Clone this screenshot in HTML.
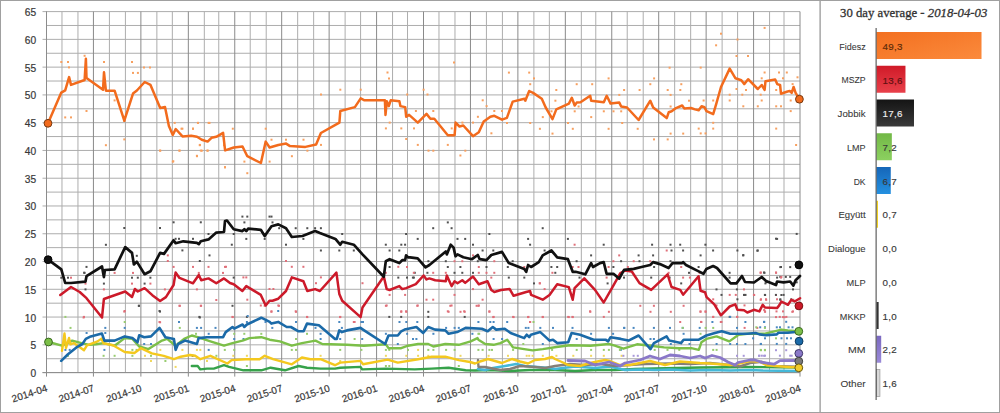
<!DOCTYPE html><html><head><meta charset="utf-8"><style>
html,body{margin:0;padding:0;background:#fff;width:1000px;height:413px;overflow:hidden}
svg{display:block}
text{font-family:"Liberation Sans",sans-serif}
</style></head><body>
<svg width="1000" height="413" viewBox="0 0 1000 413">
<rect x="0" y="0" width="1000" height="413" fill="#fff"/>
<path d="M42.5 372.60H800.0M46.5 358.72H800.0M42.5 344.83H800.0M46.5 330.95H800.0M42.5 317.06H800.0M46.5 303.18H800.0M42.5 289.29H800.0M46.5 275.41H800.0M42.5 261.52H800.0M46.5 247.64H800.0M42.5 233.75H800.0M46.5 219.87H800.0M42.5 205.98H800.0M46.5 192.10H800.0M42.5 178.22H800.0M46.5 164.33H800.0M42.5 150.45H800.0M46.5 136.56H800.0M42.5 122.68H800.0M46.5 108.79H800.0M42.5 94.91H800.0M46.5 81.02H800.0M42.5 67.14H800.0M46.5 53.25H800.0M42.5 39.37H800.0M46.5 25.48H800.0M42.5 11.60H800.0M61.97 11.6V372.6M77.96 11.6V372.6M109.42 11.6V372.6M125.41 11.6V372.6M156.87 11.6V372.6M172.34 11.6V372.6M204.32 11.6V372.6M218.76 11.6V372.6M250.22 11.6V372.6M266.21 11.6V372.6M297.67 11.6V372.6M313.65 11.6V372.6M345.11 11.6V372.6M360.59 11.6V372.6M392.56 11.6V372.6M407.52 11.6V372.6M438.98 11.6V372.6M454.97 11.6V372.6M486.43 11.6V372.6M502.42 11.6V372.6M533.88 11.6V372.6M549.35 11.6V372.6M581.33 11.6V372.6M595.77 11.6V372.6M627.23 11.6V372.6M643.21 11.6V372.6M674.67 11.6V372.6M690.66 11.6V372.6M722.12 11.6V372.6M737.60 11.6V372.6M769.57 11.6V372.6M784.01 11.6V372.6" stroke="#adadad" stroke-width="1" fill="none"/>
<path d="M46.50 11.6V376.6M93.43 11.6V376.6M140.88 11.6V376.6M188.33 11.6V376.6M234.75 11.6V376.6M281.68 11.6V376.6M329.13 11.6V376.6M376.58 11.6V376.6M423.51 11.6V376.6M470.44 11.6V376.6M517.89 11.6V376.6M565.34 11.6V376.6M611.75 11.6V376.6M658.69 11.6V376.6M706.13 11.6V376.6M753.58 11.6V376.6M800.00 11.6V376.6" stroke="#8a8a8a" stroke-width="1" fill="none"/>
<path d="M46.5 11.6V372.6M42.5 372.60H800.0" stroke="#8c8c8c" stroke-width="1" fill="none"/>
<text x="36.2" y="377.0" font-size="10.2" fill="#383838" stroke="#383838" stroke-width="0.2" text-anchor="end">0</text>
<text x="36.2" y="349.2" font-size="10.2" fill="#383838" stroke="#383838" stroke-width="0.2" text-anchor="end">5</text>
<text x="36.2" y="321.5" font-size="10.2" fill="#383838" stroke="#383838" stroke-width="0.2" text-anchor="end">10</text>
<text x="36.2" y="293.7" font-size="10.2" fill="#383838" stroke="#383838" stroke-width="0.2" text-anchor="end">15</text>
<text x="36.2" y="265.9" font-size="10.2" fill="#383838" stroke="#383838" stroke-width="0.2" text-anchor="end">20</text>
<text x="36.2" y="238.2" font-size="10.2" fill="#383838" stroke="#383838" stroke-width="0.2" text-anchor="end">25</text>
<text x="36.2" y="210.4" font-size="10.2" fill="#383838" stroke="#383838" stroke-width="0.2" text-anchor="end">30</text>
<text x="36.2" y="182.6" font-size="10.2" fill="#383838" stroke="#383838" stroke-width="0.2" text-anchor="end">35</text>
<text x="36.2" y="154.8" font-size="10.2" fill="#383838" stroke="#383838" stroke-width="0.2" text-anchor="end">40</text>
<text x="36.2" y="127.1" font-size="10.2" fill="#383838" stroke="#383838" stroke-width="0.2" text-anchor="end">45</text>
<text x="36.2" y="99.3" font-size="10.2" fill="#383838" stroke="#383838" stroke-width="0.2" text-anchor="end">50</text>
<text x="36.2" y="71.5" font-size="10.2" fill="#383838" stroke="#383838" stroke-width="0.2" text-anchor="end">55</text>
<text x="36.2" y="43.8" font-size="10.2" fill="#383838" stroke="#383838" stroke-width="0.2" text-anchor="end">60</text>
<text x="36.2" y="16.0" font-size="10.2" fill="#383838" stroke="#383838" stroke-width="0.2" text-anchor="end">65</text>
<text transform="translate(48.0 391.1) rotate(-18)" font-size="10" fill="#383838" stroke="#383838" stroke-width="0.2" text-anchor="end">2014-04</text>
<text transform="translate(94.9 391.1) rotate(-18)" font-size="10" fill="#383838" stroke="#383838" stroke-width="0.2" text-anchor="end">2014-07</text>
<text transform="translate(142.4 391.1) rotate(-18)" font-size="10" fill="#383838" stroke="#383838" stroke-width="0.2" text-anchor="end">2014-10</text>
<text transform="translate(189.8 391.1) rotate(-18)" font-size="10" fill="#383838" stroke="#383838" stroke-width="0.2" text-anchor="end">2015-01</text>
<text transform="translate(236.2 391.1) rotate(-18)" font-size="10" fill="#383838" stroke="#383838" stroke-width="0.2" text-anchor="end">2015-04</text>
<text transform="translate(283.2 391.1) rotate(-18)" font-size="10" fill="#383838" stroke="#383838" stroke-width="0.2" text-anchor="end">2015-07</text>
<text transform="translate(330.6 391.1) rotate(-18)" font-size="10" fill="#383838" stroke="#383838" stroke-width="0.2" text-anchor="end">2015-10</text>
<text transform="translate(378.1 391.1) rotate(-18)" font-size="10" fill="#383838" stroke="#383838" stroke-width="0.2" text-anchor="end">2016-01</text>
<text transform="translate(425.0 391.1) rotate(-18)" font-size="10" fill="#383838" stroke="#383838" stroke-width="0.2" text-anchor="end">2016-04</text>
<text transform="translate(471.9 391.1) rotate(-18)" font-size="10" fill="#383838" stroke="#383838" stroke-width="0.2" text-anchor="end">2016-07</text>
<text transform="translate(519.4 391.1) rotate(-18)" font-size="10" fill="#383838" stroke="#383838" stroke-width="0.2" text-anchor="end">2016-10</text>
<text transform="translate(566.8 391.1) rotate(-18)" font-size="10" fill="#383838" stroke="#383838" stroke-width="0.2" text-anchor="end">2017-01</text>
<text transform="translate(613.3 391.1) rotate(-18)" font-size="10" fill="#383838" stroke="#383838" stroke-width="0.2" text-anchor="end">2017-04</text>
<text transform="translate(660.2 391.1) rotate(-18)" font-size="10" fill="#383838" stroke="#383838" stroke-width="0.2" text-anchor="end">2017-07</text>
<text transform="translate(707.6 391.1) rotate(-18)" font-size="10" fill="#383838" stroke="#383838" stroke-width="0.2" text-anchor="end">2017-10</text>
<text transform="translate(755.1 391.1) rotate(-18)" font-size="10" fill="#383838" stroke="#383838" stroke-width="0.2" text-anchor="end">2018-01</text>
<text transform="translate(801.5 391.1) rotate(-18)" font-size="10" fill="#383838" stroke="#383838" stroke-width="0.2" text-anchor="end">2018-04</text>
<defs><clipPath id="pc"><rect x="46" y="0" width="760" height="374"/></clipPath></defs>
<g clip-path="url(#pc)">
<rect x="143.0" y="66.5" width="2" height="2" fill="#f7a060"/><rect x="149.0" y="66.5" width="2" height="2" fill="#f7a060"/><rect x="386.5" y="71.5" width="2" height="2" fill="#f7a060"/><rect x="388.0" y="77.5" width="2" height="2" fill="#f7a060"/><rect x="453.0" y="61.5" width="2" height="2" fill="#f7a060"/><rect x="60.3" y="61.0" width="2" height="2" fill="#f7a060"/><rect x="67.0" y="61.0" width="2" height="2" fill="#f7a060"/><rect x="68.0" y="66.4" width="2" height="2" fill="#f7a060"/><rect x="64.2" y="116.4" width="2" height="2" fill="#f7a060"/><rect x="70.0" y="116.4" width="2" height="2" fill="#f7a060"/><rect x="83.6" y="54.8" width="2" height="2" fill="#f7a060"/><rect x="85.5" y="110.0" width="2" height="2" fill="#f7a060"/><rect x="103.0" y="61.0" width="2" height="2" fill="#f7a060"/><rect x="113.6" y="99.4" width="2" height="2" fill="#f7a060"/><rect x="131.0" y="61.0" width="2" height="2" fill="#f7a060"/><rect x="132.0" y="71.9" width="2" height="2" fill="#f7a060"/><rect x="136.9" y="71.9" width="2" height="2" fill="#f7a060"/><rect x="173.7" y="121.9" width="2" height="2" fill="#f7a060"/><rect x="180.5" y="127.7" width="2" height="2" fill="#f7a060"/><rect x="197.0" y="121.9" width="2" height="2" fill="#f7a060"/><rect x="207.6" y="121.9" width="2" height="2" fill="#f7a060"/><rect x="192.0" y="127.7" width="2" height="2" fill="#f7a060"/><rect x="231.8" y="127.7" width="2" height="2" fill="#f7a060"/><rect x="264.7" y="127.7" width="2" height="2" fill="#f7a060"/><rect x="159.2" y="149.7" width="2" height="2" fill="#f7a060"/><rect x="178.5" y="149.7" width="2" height="2" fill="#f7a060"/><rect x="198.9" y="143.9" width="2" height="2" fill="#f7a060"/><rect x="200.8" y="149.7" width="2" height="2" fill="#f7a060"/><rect x="206.6" y="149.7" width="2" height="2" fill="#f7a060"/><rect x="196.0" y="155.2" width="2" height="2" fill="#f7a060"/><rect x="171.8" y="160.6" width="2" height="2" fill="#f7a060"/><rect x="224.0" y="166.4" width="2" height="2" fill="#f7a060"/><rect x="243.4" y="160.6" width="2" height="2" fill="#f7a060"/><rect x="246.3" y="172.2" width="2" height="2" fill="#f7a060"/><rect x="268.6" y="160.6" width="2" height="2" fill="#f7a060"/><rect x="270.5" y="138.7" width="2" height="2" fill="#f7a060"/><rect x="285.0" y="138.7" width="2" height="2" fill="#f7a060"/><rect x="302.5" y="138.7" width="2" height="2" fill="#f7a060"/><rect x="290.9" y="155.2" width="2" height="2" fill="#f7a060"/><rect x="306.4" y="149.7" width="2" height="2" fill="#f7a060"/><rect x="320.0" y="143.9" width="2" height="2" fill="#f7a060"/><rect x="339.3" y="88.7" width="2" height="2" fill="#f7a060"/><rect x="359.7" y="88.7" width="2" height="2" fill="#f7a060"/><rect x="320.0" y="93.5" width="2" height="2" fill="#f7a060"/><rect x="422.6" y="88.7" width="2" height="2" fill="#f7a060"/><rect x="406.2" y="93.5" width="2" height="2" fill="#f7a060"/><rect x="426.5" y="93.5" width="2" height="2" fill="#f7a060"/><rect x="414.9" y="110.0" width="2" height="2" fill="#f7a060"/><rect x="432.3" y="110.0" width="2" height="2" fill="#f7a060"/><rect x="388.7" y="121.6" width="2" height="2" fill="#f7a060"/><rect x="384.9" y="127.4" width="2" height="2" fill="#f7a060"/><rect x="400.3" y="127.4" width="2" height="2" fill="#f7a060"/><rect x="413.0" y="127.4" width="2" height="2" fill="#f7a060"/><rect x="405.2" y="138.0" width="2" height="2" fill="#f7a060"/><rect x="416.8" y="143.9" width="2" height="2" fill="#f7a060"/><rect x="427.5" y="149.7" width="2" height="2" fill="#f7a060"/><rect x="432.3" y="149.7" width="2" height="2" fill="#f7a060"/><rect x="446.8" y="143.9" width="2" height="2" fill="#f7a060"/><rect x="459.4" y="154.5" width="2" height="2" fill="#f7a060"/><rect x="464.3" y="149.7" width="2" height="2" fill="#f7a060"/><rect x="450.7" y="127.4" width="2" height="2" fill="#f7a060"/><rect x="461.4" y="121.6" width="2" height="2" fill="#f7a060"/><rect x="472.0" y="121.6" width="2" height="2" fill="#f7a060"/><rect x="476.9" y="115.8" width="2" height="2" fill="#f7a060"/><rect x="481.7" y="99.3" width="2" height="2" fill="#f7a060"/><rect x="485.6" y="105.1" width="2" height="2" fill="#f7a060"/><rect x="493.3" y="110.0" width="2" height="2" fill="#f7a060"/><rect x="501.0" y="110.0" width="2" height="2" fill="#f7a060"/><rect x="490.4" y="132.3" width="2" height="2" fill="#f7a060"/><rect x="507.9" y="71.6" width="2" height="2" fill="#f7a060"/><rect x="528.2" y="71.6" width="2" height="2" fill="#f7a060"/><rect x="533.0" y="77.4" width="2" height="2" fill="#f7a060"/><rect x="529.2" y="83.2" width="2" height="2" fill="#f7a060"/><rect x="555.3" y="89.0" width="2" height="2" fill="#f7a060"/><rect x="575.7" y="83.2" width="2" height="2" fill="#f7a060"/><rect x="591.2" y="83.2" width="2" height="2" fill="#f7a060"/><rect x="607.6" y="77.4" width="2" height="2" fill="#f7a060"/><rect x="623.1" y="89.0" width="2" height="2" fill="#f7a060"/><rect x="618.3" y="93.9" width="2" height="2" fill="#f7a060"/><rect x="638.6" y="89.0" width="2" height="2" fill="#f7a060"/><rect x="649.3" y="83.2" width="2" height="2" fill="#f7a060"/><rect x="653.1" y="77.4" width="2" height="2" fill="#f7a060"/><rect x="668.6" y="66.7" width="2" height="2" fill="#f7a060"/><rect x="666.7" y="89.0" width="2" height="2" fill="#f7a060"/><rect x="679.3" y="89.0" width="2" height="2" fill="#f7a060"/><rect x="680.3" y="83.2" width="2" height="2" fill="#f7a060"/><rect x="669.6" y="93.9" width="2" height="2" fill="#f7a060"/><rect x="688.0" y="99.7" width="2" height="2" fill="#f7a060"/><rect x="669.6" y="105.5" width="2" height="2" fill="#f7a060"/><rect x="554.4" y="99.7" width="2" height="2" fill="#f7a060"/><rect x="550.5" y="110.3" width="2" height="2" fill="#f7a060"/><rect x="573.7" y="110.3" width="2" height="2" fill="#f7a060"/><rect x="577.6" y="105.5" width="2" height="2" fill="#f7a060"/><rect x="590.2" y="116.1" width="2" height="2" fill="#f7a060"/><rect x="602.8" y="110.3" width="2" height="2" fill="#f7a060"/><rect x="612.5" y="110.3" width="2" height="2" fill="#f7a060"/><rect x="620.2" y="110.3" width="2" height="2" fill="#f7a060"/><rect x="541.8" y="116.1" width="2" height="2" fill="#f7a060"/><rect x="529.2" y="122.0" width="2" height="2" fill="#f7a060"/><rect x="506.0" y="122.0" width="2" height="2" fill="#f7a060"/><rect x="567.0" y="122.0" width="2" height="2" fill="#f7a060"/><rect x="621.2" y="122.0" width="2" height="2" fill="#f7a060"/><rect x="538.9" y="127.8" width="2" height="2" fill="#f7a060"/><rect x="571.8" y="127.8" width="2" height="2" fill="#f7a060"/><rect x="607.6" y="127.8" width="2" height="2" fill="#f7a060"/><rect x="636.7" y="127.8" width="2" height="2" fill="#f7a060"/><rect x="551.5" y="132.6" width="2" height="2" fill="#f7a060"/><rect x="669.6" y="132.6" width="2" height="2" fill="#f7a060"/><rect x="682.2" y="132.6" width="2" height="2" fill="#f7a060"/><rect x="653.0" y="138.4" width="2" height="2" fill="#f7a060"/><rect x="666.7" y="138.4" width="2" height="2" fill="#f7a060"/><rect x="763.6" y="26.9" width="2" height="2" fill="#f7a060"/><rect x="720.0" y="32.7" width="2" height="2" fill="#f7a060"/><rect x="715.1" y="44.3" width="2" height="2" fill="#f7a060"/><rect x="736.5" y="38.5" width="2" height="2" fill="#f7a060"/><rect x="735.5" y="55.0" width="2" height="2" fill="#f7a060"/><rect x="747.0" y="55.0" width="2" height="2" fill="#f7a060"/><rect x="699.7" y="66.6" width="2" height="2" fill="#f7a060"/><rect x="763.6" y="71.5" width="2" height="2" fill="#f7a060"/><rect x="778.0" y="71.5" width="2" height="2" fill="#f7a060"/><rect x="785.8" y="71.5" width="2" height="2" fill="#f7a060"/><rect x="796.5" y="76.3" width="2" height="2" fill="#f7a060"/><rect x="782.0" y="77.3" width="2" height="2" fill="#f7a060"/><rect x="760.7" y="77.3" width="2" height="2" fill="#f7a060"/><rect x="735.5" y="88.0" width="2" height="2" fill="#f7a060"/><rect x="745.0" y="89.0" width="2" height="2" fill="#f7a060"/><rect x="775.2" y="89.0" width="2" height="2" fill="#f7a060"/><rect x="791.6" y="83.1" width="2" height="2" fill="#f7a060"/><rect x="728.7" y="93.7" width="2" height="2" fill="#f7a060"/><rect x="741.3" y="93.7" width="2" height="2" fill="#f7a060"/><rect x="759.7" y="93.7" width="2" height="2" fill="#f7a060"/><rect x="712.2" y="99.5" width="2" height="2" fill="#f7a060"/><rect x="702.6" y="99.5" width="2" height="2" fill="#f7a060"/><rect x="728.7" y="99.5" width="2" height="2" fill="#f7a060"/><rect x="760.7" y="99.5" width="2" height="2" fill="#f7a060"/><rect x="789.7" y="99.5" width="2" height="2" fill="#f7a060"/><rect x="742.3" y="105.3" width="2" height="2" fill="#f7a060"/><rect x="756.8" y="105.3" width="2" height="2" fill="#f7a060"/><rect x="775.2" y="105.3" width="2" height="2" fill="#f7a060"/><rect x="780.0" y="105.3" width="2" height="2" fill="#f7a060"/><rect x="789.7" y="110.1" width="2" height="2" fill="#f7a060"/><rect x="712.2" y="121.8" width="2" height="2" fill="#f7a060"/><rect x="697.7" y="127.6" width="2" height="2" fill="#f7a060"/><rect x="712.2" y="127.6" width="2" height="2" fill="#f7a060"/><rect x="699.7" y="132.4" width="2" height="2" fill="#f7a060"/><rect x="704.5" y="132.4" width="2" height="2" fill="#f7a060"/><rect x="775.2" y="127.6" width="2" height="2" fill="#f7a060"/><rect x="795.1" y="144.0" width="2" height="2" fill="#f7a060"/><rect x="104.9" y="144.2" width="2" height="2" fill="#f7a060"/><rect x="123.3" y="138.4" width="2" height="2" fill="#f7a060"/><rect x="123.3" y="120.0" width="2" height="2" fill="#f7a060"/><rect x="159.1" y="149.6" width="2" height="2" fill="#f7a060"/><rect x="178.5" y="149.6" width="2" height="2" fill="#f7a060"/><rect x="199.8" y="149.6" width="2" height="2" fill="#f7a060"/><rect x="206.5" y="149.6" width="2" height="2" fill="#f7a060"/><rect x="198.8" y="144.2" width="2" height="2" fill="#f7a060"/><rect x="195.9" y="154.8" width="2" height="2" fill="#f7a060"/><rect x="172.3" y="160.3" width="2" height="2" fill="#f7a060"/><rect x="224.0" y="166.1" width="2" height="2" fill="#f7a060"/><rect x="181.4" y="127.7" width="2" height="2" fill="#f7a060"/><rect x="192.0" y="127.7" width="2" height="2" fill="#f7a060"/><rect x="196.9" y="121.9" width="2" height="2" fill="#f7a060"/><rect x="208.5" y="121.9" width="2" height="2" fill="#f7a060"/><rect x="223.0" y="144.2" width="2" height="2" fill="#f7a060"/>
<rect x="83.5" y="271.9" width="2" height="2" fill="#505050"/><rect x="60.3" y="276.7" width="2" height="2" fill="#505050"/><rect x="67.0" y="276.7" width="2" height="2" fill="#505050"/><rect x="131.0" y="276.7" width="2" height="2" fill="#505050"/><rect x="136.8" y="276.7" width="2" height="2" fill="#505050"/><rect x="149.4" y="276.7" width="2" height="2" fill="#505050"/><rect x="102.9" y="282.6" width="2" height="2" fill="#505050"/><rect x="143.6" y="282.6" width="2" height="2" fill="#505050"/><rect x="84.5" y="288.4" width="2" height="2" fill="#505050"/><rect x="134.0" y="288.4" width="2" height="2" fill="#505050"/><rect x="137.8" y="304.8" width="2" height="2" fill="#505050"/><rect x="159.0" y="310.6" width="2" height="2" fill="#505050"/><rect x="198.8" y="316.5" width="2" height="2" fill="#505050"/><rect x="123.3" y="227.0" width="2" height="2" fill="#505050"/><rect x="159.0" y="227.0" width="2" height="2" fill="#505050"/><rect x="172.6" y="221.3" width="2" height="2" fill="#505050"/><rect x="199.8" y="221.3" width="2" height="2" fill="#505050"/><rect x="104.9" y="243.8" width="2" height="2" fill="#505050"/><rect x="135.8" y="254.8" width="2" height="2" fill="#505050"/><rect x="181.4" y="249.4" width="2" height="2" fill="#505050"/><rect x="208.5" y="254.4" width="2" height="2" fill="#505050"/><rect x="198.8" y="260.0" width="2" height="2" fill="#505050"/><rect x="85.5" y="265.9" width="2" height="2" fill="#505050"/><rect x="83.2" y="271.7" width="2" height="2" fill="#505050"/><rect x="178.0" y="237.8" width="2" height="2" fill="#505050"/><rect x="174.6" y="237.8" width="2" height="2" fill="#505050"/><rect x="192.0" y="237.8" width="2" height="2" fill="#505050"/><rect x="207.5" y="233.0" width="2" height="2" fill="#505050"/><rect x="241.4" y="215.6" width="2" height="2" fill="#505050"/><rect x="246.3" y="215.6" width="2" height="2" fill="#505050"/><rect x="268.5" y="215.6" width="2" height="2" fill="#505050"/><rect x="270.5" y="215.6" width="2" height="2" fill="#505050"/><rect x="243.4" y="221.4" width="2" height="2" fill="#505050"/><rect x="271.5" y="221.4" width="2" height="2" fill="#505050"/><rect x="294.7" y="227.2" width="2" height="2" fill="#505050"/><rect x="306.3" y="227.2" width="2" height="2" fill="#505050"/><rect x="314.1" y="227.2" width="2" height="2" fill="#505050"/><rect x="319.9" y="227.2" width="2" height="2" fill="#505050"/><rect x="232.7" y="233.0" width="2" height="2" fill="#505050"/><rect x="278.2" y="227.2" width="2" height="2" fill="#505050"/><rect x="245.3" y="237.9" width="2" height="2" fill="#505050"/><rect x="302.4" y="237.9" width="2" height="2" fill="#505050"/><rect x="341.2" y="233.0" width="2" height="2" fill="#505050"/><rect x="405.1" y="233.0" width="2" height="2" fill="#505050"/><rect x="230.8" y="243.7" width="2" height="2" fill="#505050"/><rect x="285.0" y="243.7" width="2" height="2" fill="#505050"/><rect x="263.7" y="237.9" width="2" height="2" fill="#505050"/><rect x="319.9" y="249.5" width="2" height="2" fill="#505050"/><rect x="338.3" y="249.5" width="2" height="2" fill="#505050"/><rect x="352.8" y="249.5" width="2" height="2" fill="#505050"/><rect x="384.8" y="243.7" width="2" height="2" fill="#505050"/><rect x="400.3" y="243.7" width="2" height="2" fill="#505050"/><rect x="404.1" y="243.7" width="2" height="2" fill="#505050"/><rect x="388.6" y="249.5" width="2" height="2" fill="#505050"/><rect x="398.3" y="249.5" width="2" height="2" fill="#505050"/><rect x="388.6" y="266.0" width="2" height="2" fill="#505050"/><rect x="397.3" y="276.6" width="2" height="2" fill="#505050"/><rect x="406.0" y="276.6" width="2" height="2" fill="#505050"/><rect x="411.9" y="276.6" width="2" height="2" fill="#505050"/><rect x="232.7" y="276.6" width="2" height="2" fill="#505050"/><rect x="446.8" y="221.4" width="2" height="2" fill="#505050"/><rect x="432.2" y="227.2" width="2" height="2" fill="#505050"/><rect x="450.6" y="227.2" width="2" height="2" fill="#505050"/><rect x="541.7" y="227.2" width="2" height="2" fill="#505050"/><rect x="488.4" y="233.0" width="2" height="2" fill="#505050"/><rect x="416.7" y="237.9" width="2" height="2" fill="#505050"/><rect x="456.5" y="237.9" width="2" height="2" fill="#505050"/><rect x="464.2" y="237.9" width="2" height="2" fill="#505050"/><rect x="527.1" y="237.9" width="2" height="2" fill="#505050"/><rect x="566.9" y="237.9" width="2" height="2" fill="#505050"/><rect x="472.0" y="243.7" width="2" height="2" fill="#505050"/><rect x="529.1" y="243.7" width="2" height="2" fill="#505050"/><rect x="481.6" y="249.5" width="2" height="2" fill="#505050"/><rect x="492.3" y="249.5" width="2" height="2" fill="#505050"/><rect x="543.6" y="249.5" width="2" height="2" fill="#505050"/><rect x="590.1" y="254.4" width="2" height="2" fill="#505050"/><rect x="427.4" y="260.2" width="2" height="2" fill="#505050"/><rect x="444.8" y="260.2" width="2" height="2" fill="#505050"/><rect x="476.8" y="260.2" width="2" height="2" fill="#505050"/><rect x="511.7" y="260.2" width="2" height="2" fill="#505050"/><rect x="575.6" y="260.2" width="2" height="2" fill="#505050"/><rect x="446.8" y="266.0" width="2" height="2" fill="#505050"/><rect x="459.4" y="266.0" width="2" height="2" fill="#505050"/><rect x="485.5" y="266.0" width="2" height="2" fill="#505050"/><rect x="506.8" y="266.0" width="2" height="2" fill="#505050"/><rect x="550.4" y="266.0" width="2" height="2" fill="#505050"/><rect x="556.2" y="266.0" width="2" height="2" fill="#505050"/><rect x="413.8" y="271.8" width="2" height="2" fill="#505050"/><rect x="426.4" y="271.8" width="2" height="2" fill="#505050"/><rect x="453.5" y="271.8" width="2" height="2" fill="#505050"/><rect x="461.3" y="271.8" width="2" height="2" fill="#505050"/><rect x="472.0" y="271.8" width="2" height="2" fill="#505050"/><rect x="554.3" y="271.8" width="2" height="2" fill="#505050"/><rect x="412.9" y="276.6" width="2" height="2" fill="#505050"/><rect x="507.8" y="276.6" width="2" height="2" fill="#505050"/><rect x="523.3" y="276.6" width="2" height="2" fill="#505050"/><rect x="578.5" y="276.6" width="2" height="2" fill="#505050"/><rect x="533.0" y="282.4" width="2" height="2" fill="#505050"/><rect x="602.7" y="243.7" width="2" height="2" fill="#505050"/><rect x="651.1" y="243.7" width="2" height="2" fill="#505050"/><rect x="669.5" y="243.7" width="2" height="2" fill="#505050"/><rect x="679.2" y="243.7" width="2" height="2" fill="#505050"/><rect x="704.4" y="243.7" width="2" height="2" fill="#505050"/><rect x="670.5" y="249.5" width="2" height="2" fill="#505050"/><rect x="682.1" y="249.5" width="2" height="2" fill="#505050"/><rect x="712.1" y="249.5" width="2" height="2" fill="#505050"/><rect x="736.4" y="249.5" width="2" height="2" fill="#505050"/><rect x="756.7" y="249.5" width="2" height="2" fill="#505050"/><rect x="776.1" y="237.9" width="2" height="2" fill="#505050"/><rect x="637.6" y="254.4" width="2" height="2" fill="#505050"/><rect x="652.1" y="254.4" width="2" height="2" fill="#505050"/><rect x="699.6" y="254.4" width="2" height="2" fill="#505050"/><rect x="742.2" y="254.4" width="2" height="2" fill="#505050"/><rect x="620.1" y="260.2" width="2" height="2" fill="#505050"/><rect x="638.5" y="260.2" width="2" height="2" fill="#505050"/><rect x="669.5" y="260.2" width="2" height="2" fill="#505050"/><rect x="612.4" y="266.0" width="2" height="2" fill="#505050"/><rect x="653.1" y="266.0" width="2" height="2" fill="#505050"/><rect x="697.6" y="266.0" width="2" height="2" fill="#505050"/><rect x="780.0" y="266.0" width="2" height="2" fill="#505050"/><rect x="688.0" y="271.8" width="2" height="2" fill="#505050"/><rect x="728.6" y="271.8" width="2" height="2" fill="#505050"/><rect x="763.5" y="271.8" width="2" height="2" fill="#505050"/><rect x="650.2" y="276.6" width="2" height="2" fill="#505050"/><rect x="623.0" y="276.6" width="2" height="2" fill="#505050"/><rect x="668.6" y="276.6" width="2" height="2" fill="#505050"/><rect x="728.6" y="276.6" width="2" height="2" fill="#505050"/><rect x="776.1" y="276.6" width="2" height="2" fill="#505050"/><rect x="606.6" y="282.4" width="2" height="2" fill="#505050"/><rect x="680.2" y="282.4" width="2" height="2" fill="#505050"/><rect x="764.4" y="282.4" width="2" height="2" fill="#505050"/><rect x="795.7" y="232.9" width="2" height="2" fill="#505050"/><rect x="775.0" y="237.7" width="2" height="2" fill="#505050"/><rect x="756.4" y="249.7" width="2" height="2" fill="#505050"/><rect x="742.3" y="254.1" width="2" height="2" fill="#505050"/><rect x="779.3" y="266.1" width="2" height="2" fill="#505050"/><rect x="789.2" y="266.1" width="2" height="2" fill="#505050"/><rect x="763.0" y="271.5" width="2" height="2" fill="#505050"/><rect x="779.3" y="275.9" width="2" height="2" fill="#505050"/><rect x="784.8" y="275.9" width="2" height="2" fill="#505050"/><rect x="789.2" y="275.9" width="2" height="2" fill="#505050"/><rect x="765.2" y="281.3" width="2" height="2" fill="#505050"/><rect x="795.7" y="281.3" width="2" height="2" fill="#505050"/><rect x="743.4" y="294.0" width="2" height="2" fill="#505050"/><rect x="764.1" y="294.0" width="2" height="2" fill="#505050"/><rect x="780.4" y="294.0" width="2" height="2" fill="#505050"/><rect x="779.3" y="298.8" width="2" height="2" fill="#505050"/>
<rect x="70.0" y="276.7" width="2" height="2" fill="#e0707a"/><rect x="84.5" y="282.6" width="2" height="2" fill="#e0707a"/><rect x="102.9" y="288.4" width="2" height="2" fill="#e0707a"/><rect x="113.6" y="271.9" width="2" height="2" fill="#e0707a"/><rect x="132.0" y="271.9" width="2" height="2" fill="#e0707a"/><rect x="131.0" y="282.6" width="2" height="2" fill="#e0707a"/><rect x="149.4" y="282.6" width="2" height="2" fill="#e0707a"/><rect x="163.9" y="288.4" width="2" height="2" fill="#e0707a"/><rect x="195.9" y="288.4" width="2" height="2" fill="#e0707a"/><rect x="197.8" y="271.9" width="2" height="2" fill="#e0707a"/><rect x="222.0" y="271.9" width="2" height="2" fill="#e0707a"/><rect x="178.5" y="304.8" width="2" height="2" fill="#e0707a"/><rect x="199.8" y="304.8" width="2" height="2" fill="#e0707a"/><rect x="215.3" y="299.0" width="2" height="2" fill="#e0707a"/><rect x="123.3" y="310.6" width="2" height="2" fill="#e0707a"/><rect x="82.6" y="316.5" width="2" height="2" fill="#e0707a"/><rect x="159.1" y="321.3" width="2" height="2" fill="#e0707a"/><rect x="166.8" y="254.4" width="2" height="2" fill="#e0707a"/><rect x="166.8" y="260.0" width="2" height="2" fill="#e0707a"/><rect x="172.6" y="265.9" width="2" height="2" fill="#e0707a"/><rect x="192.0" y="265.9" width="2" height="2" fill="#e0707a"/><rect x="207.5" y="265.9" width="2" height="2" fill="#e0707a"/><rect x="224.0" y="265.9" width="2" height="2" fill="#e0707a"/><rect x="225.0" y="265.8" width="2" height="2" fill="#e0707a"/><rect x="285.0" y="260.0" width="2" height="2" fill="#e0707a"/><rect x="290.8" y="265.8" width="2" height="2" fill="#e0707a"/><rect x="302.4" y="265.8" width="2" height="2" fill="#e0707a"/><rect x="242.4" y="276.4" width="2" height="2" fill="#e0707a"/><rect x="245.3" y="276.4" width="2" height="2" fill="#e0707a"/><rect x="319.9" y="276.4" width="2" height="2" fill="#e0707a"/><rect x="315.0" y="282.2" width="2" height="2" fill="#e0707a"/><rect x="268.5" y="288.0" width="2" height="2" fill="#e0707a"/><rect x="272.4" y="288.0" width="2" height="2" fill="#e0707a"/><rect x="246.3" y="298.7" width="2" height="2" fill="#e0707a"/><rect x="259.8" y="304.5" width="2" height="2" fill="#e0707a"/><rect x="277.3" y="304.5" width="2" height="2" fill="#e0707a"/><rect x="270.5" y="310.3" width="2" height="2" fill="#e0707a"/><rect x="294.7" y="310.3" width="2" height="2" fill="#e0707a"/><rect x="306.3" y="316.1" width="2" height="2" fill="#e0707a"/><rect x="339.2" y="316.1" width="2" height="2" fill="#e0707a"/><rect x="361.5" y="282.2" width="2" height="2" fill="#e0707a"/><rect x="388.6" y="293.9" width="2" height="2" fill="#e0707a"/><rect x="404.1" y="293.9" width="2" height="2" fill="#e0707a"/><rect x="385.7" y="304.5" width="2" height="2" fill="#e0707a"/><rect x="400.3" y="310.3" width="2" height="2" fill="#e0707a"/><rect x="405.1" y="310.3" width="2" height="2" fill="#e0707a"/><rect x="352.8" y="321.0" width="2" height="2" fill="#e0707a"/><rect x="231.7" y="316.1" width="2" height="2" fill="#e0707a"/><rect x="397.3" y="265.8" width="2" height="2" fill="#e0707a"/><rect x="406.0" y="266.0" width="2" height="2" fill="#e0707a"/><rect x="412.8" y="271.8" width="2" height="2" fill="#e0707a"/><rect x="384.8" y="271.8" width="2" height="2" fill="#e0707a"/><rect x="573.6" y="243.7" width="2" height="2" fill="#e0707a"/><rect x="472.0" y="254.4" width="2" height="2" fill="#e0707a"/><rect x="453.5" y="260.2" width="2" height="2" fill="#e0707a"/><rect x="461.3" y="260.2" width="2" height="2" fill="#e0707a"/><rect x="493.3" y="260.2" width="2" height="2" fill="#e0707a"/><rect x="477.8" y="266.0" width="2" height="2" fill="#e0707a"/><rect x="523.3" y="266.0" width="2" height="2" fill="#e0707a"/><rect x="571.7" y="266.0" width="2" height="2" fill="#e0707a"/><rect x="577.5" y="266.0" width="2" height="2" fill="#e0707a"/><rect x="432.2" y="271.8" width="2" height="2" fill="#e0707a"/><rect x="444.8" y="271.8" width="2" height="2" fill="#e0707a"/><rect x="477.8" y="271.8" width="2" height="2" fill="#e0707a"/><rect x="485.5" y="271.8" width="2" height="2" fill="#e0707a"/><rect x="493.3" y="271.8" width="2" height="2" fill="#e0707a"/><rect x="551.4" y="271.8" width="2" height="2" fill="#e0707a"/><rect x="490.3" y="276.6" width="2" height="2" fill="#e0707a"/><rect x="538.8" y="282.4" width="2" height="2" fill="#e0707a"/><rect x="425.5" y="298.7" width="2" height="2" fill="#e0707a"/><rect x="432.2" y="298.7" width="2" height="2" fill="#e0707a"/><rect x="416.7" y="304.5" width="2" height="2" fill="#e0707a"/><rect x="450.6" y="304.5" width="2" height="2" fill="#e0707a"/><rect x="477.8" y="304.5" width="2" height="2" fill="#e0707a"/><rect x="481.6" y="298.7" width="2" height="2" fill="#e0707a"/><rect x="453.5" y="293.9" width="2" height="2" fill="#e0707a"/><rect x="472.0" y="288.1" width="2" height="2" fill="#e0707a"/><rect x="463.2" y="310.3" width="2" height="2" fill="#e0707a"/><rect x="446.8" y="310.3" width="2" height="2" fill="#e0707a"/><rect x="488.4" y="310.3" width="2" height="2" fill="#e0707a"/><rect x="492.3" y="316.1" width="2" height="2" fill="#e0707a"/><rect x="512.6" y="316.1" width="2" height="2" fill="#e0707a"/><rect x="527.1" y="316.1" width="2" height="2" fill="#e0707a"/><rect x="541.7" y="316.1" width="2" height="2" fill="#e0707a"/><rect x="567.8" y="316.1" width="2" height="2" fill="#e0707a"/><rect x="571.7" y="316.1" width="2" height="2" fill="#e0707a"/><rect x="589.1" y="310.3" width="2" height="2" fill="#e0707a"/><rect x="538.8" y="282.2" width="2" height="2" fill="#e0707a"/><rect x="543.6" y="288.1" width="2" height="2" fill="#e0707a"/><rect x="529.1" y="321.0" width="2" height="2" fill="#e0707a"/><rect x="618.2" y="254.4" width="2" height="2" fill="#e0707a"/><rect x="665.7" y="249.5" width="2" height="2" fill="#e0707a"/><rect x="612.4" y="260.2" width="2" height="2" fill="#e0707a"/><rect x="632.7" y="260.2" width="2" height="2" fill="#e0707a"/><rect x="649.2" y="260.2" width="2" height="2" fill="#e0707a"/><rect x="607.6" y="266.0" width="2" height="2" fill="#e0707a"/><rect x="626.9" y="266.0" width="2" height="2" fill="#e0707a"/><rect x="680.2" y="266.0" width="2" height="2" fill="#e0707a"/><rect x="667.6" y="271.8" width="2" height="2" fill="#e0707a"/><rect x="698.6" y="271.8" width="2" height="2" fill="#e0707a"/><rect x="759.6" y="271.8" width="2" height="2" fill="#e0707a"/><rect x="775.1" y="271.8" width="2" height="2" fill="#e0707a"/><rect x="605.6" y="276.6" width="2" height="2" fill="#e0707a"/><rect x="682.1" y="276.6" width="2" height="2" fill="#e0707a"/><rect x="688.9" y="276.6" width="2" height="2" fill="#e0707a"/><rect x="780.0" y="276.6" width="2" height="2" fill="#e0707a"/><rect x="759.7" y="271.5" width="2" height="2" fill="#e0707a"/><rect x="775.0" y="271.5" width="2" height="2" fill="#e0707a"/><rect x="780.4" y="275.9" width="2" height="2" fill="#e0707a"/><rect x="753.2" y="294.0" width="2" height="2" fill="#e0707a"/><rect x="775.0" y="294.0" width="2" height="2" fill="#e0707a"/><rect x="759.7" y="298.8" width="2" height="2" fill="#e0707a"/><rect x="765.2" y="298.8" width="2" height="2" fill="#e0707a"/><rect x="792.4" y="298.8" width="2" height="2" fill="#e0707a"/><rect x="764.1" y="310.8" width="2" height="2" fill="#e0707a"/><rect x="791.3" y="310.8" width="2" height="2" fill="#e0707a"/><rect x="783.7" y="316.2" width="2" height="2" fill="#e0707a"/>
<rect x="83.0" y="315.9" width="2" height="2" fill="#e0707a"/><rect x="123.7" y="310.0" width="2" height="2" fill="#e0707a"/><rect x="158.5" y="321.0" width="2" height="2" fill="#e0707a"/><rect x="178.8" y="304.8" width="2" height="2" fill="#e0707a"/><rect x="200.1" y="304.8" width="2" height="2" fill="#e0707a"/><rect x="263.7" y="304.8" width="2" height="2" fill="#e0707a"/><rect x="270.4" y="310.8" width="2" height="2" fill="#e0707a"/><rect x="295.0" y="310.8" width="2" height="2" fill="#e0707a"/><rect x="306.0" y="315.9" width="2" height="2" fill="#e0707a"/><rect x="231.5" y="315.9" width="2" height="2" fill="#e0707a"/><rect x="278.0" y="304.8" width="2" height="2" fill="#e0707a"/><rect x="339.2" y="315.9" width="2" height="2" fill="#e0707a"/><rect x="353.6" y="321.0" width="2" height="2" fill="#e0707a"/><rect x="400.2" y="310.8" width="2" height="2" fill="#e0707a"/><rect x="405.3" y="310.8" width="2" height="2" fill="#e0707a"/><rect x="384.9" y="304.8" width="2" height="2" fill="#e0707a"/><rect x="416.3" y="304.8" width="2" height="2" fill="#e0707a"/><rect x="447.6" y="310.8" width="2" height="2" fill="#e0707a"/><rect x="459.5" y="310.8" width="2" height="2" fill="#e0707a"/><rect x="463.7" y="310.8" width="2" height="2" fill="#e0707a"/><rect x="449.3" y="304.8" width="2" height="2" fill="#e0707a"/><rect x="475.6" y="304.8" width="2" height="2" fill="#e0707a"/><rect x="488.4" y="310.8" width="2" height="2" fill="#e0707a"/><rect x="492.6" y="315.9" width="2" height="2" fill="#e0707a"/><rect x="512.1" y="315.9" width="2" height="2" fill="#e0707a"/><rect x="527.4" y="315.9" width="2" height="2" fill="#e0707a"/><rect x="541.8" y="315.9" width="2" height="2" fill="#e0707a"/><rect x="567.2" y="315.9" width="2" height="2" fill="#e0707a"/><rect x="571.5" y="315.9" width="2" height="2" fill="#e0707a"/><rect x="589.3" y="310.8" width="2" height="2" fill="#e0707a"/><rect x="607.9" y="310.8" width="2" height="2" fill="#e0707a"/><rect x="602.8" y="315.9" width="2" height="2" fill="#e0707a"/><rect x="529.1" y="321.0" width="2" height="2" fill="#e0707a"/><rect x="477.4" y="304.8" width="2" height="2" fill="#e0707a"/><rect x="649.5" y="310.8" width="2" height="2" fill="#e0707a"/><rect x="669.8" y="310.8" width="2" height="2" fill="#e0707a"/><rect x="699.5" y="310.8" width="2" height="2" fill="#e0707a"/><rect x="704.6" y="310.8" width="2" height="2" fill="#e0707a"/><rect x="712.2" y="315.9" width="2" height="2" fill="#e0707a"/><rect x="719.8" y="321.0" width="2" height="2" fill="#e0707a"/><rect x="736.0" y="315.9" width="2" height="2" fill="#e0707a"/><rect x="679.2" y="321.0" width="2" height="2" fill="#e0707a"/><rect x="700.4" y="321.0" width="2" height="2" fill="#e0707a"/><rect x="639.3" y="304.8" width="2" height="2" fill="#e0707a"/><rect x="652.9" y="304.8" width="2" height="2" fill="#e0707a"/><rect x="682.6" y="304.8" width="2" height="2" fill="#e0707a"/><rect x="743.6" y="326.9" width="2" height="2" fill="#e0707a"/><rect x="756.3" y="326.9" width="2" height="2" fill="#e0707a"/><rect x="775.0" y="316.1" width="2" height="2" fill="#e0707a"/><rect x="782.0" y="316.1" width="2" height="2" fill="#e0707a"/><rect x="763.2" y="309.0" width="2" height="2" fill="#e0707a"/>
<rect x="138.0" y="304.8" width="2" height="2" fill="#505050"/><rect x="158.5" y="310.0" width="2" height="2" fill="#505050"/><rect x="191.6" y="354.8" width="2" height="2" fill="#505050"/><rect x="198.4" y="315.9" width="2" height="2" fill="#505050"/><rect x="231.5" y="304.8" width="2" height="2" fill="#505050"/><rect x="245.9" y="315.9" width="2" height="2" fill="#505050"/><rect x="388.3" y="315.9" width="2" height="2" fill="#505050"/><rect x="400.2" y="315.9" width="2" height="2" fill="#505050"/><rect x="427.3" y="315.9" width="2" height="2" fill="#505050"/><rect x="463.7" y="315.9" width="2" height="2" fill="#505050"/><rect x="427.3" y="310.8" width="2" height="2" fill="#505050"/>
<rect x="715.5" y="288.4" width="2" height="2" fill="#505050"/><rect x="735.9" y="288.4" width="2" height="2" fill="#505050"/><rect x="720.5" y="293.9" width="2" height="2" fill="#505050"/><rect x="743.0" y="293.9" width="2" height="2" fill="#505050"/><rect x="744.5" y="293.9" width="2" height="2" fill="#505050"/><rect x="763.9" y="293.9" width="2" height="2" fill="#505050"/><rect x="774.9" y="293.9" width="2" height="2" fill="#505050"/><rect x="782.6" y="293.9" width="2" height="2" fill="#505050"/><rect x="736.4" y="298.3" width="2" height="2" fill="#505050"/><rect x="779.3" y="298.3" width="2" height="2" fill="#505050"/><rect x="790.3" y="298.3" width="2" height="2" fill="#505050"/><rect x="728.7" y="315.9" width="2" height="2" fill="#505050"/><rect x="792.0" y="288.4" width="2" height="2" fill="#505050"/>
<rect x="743.0" y="288.4" width="2" height="2" fill="#e0707a"/><rect x="728.7" y="293.9" width="2" height="2" fill="#e0707a"/><rect x="734.8" y="293.9" width="2" height="2" fill="#e0707a"/><rect x="752.9" y="293.9" width="2" height="2" fill="#e0707a"/><rect x="760.0" y="298.3" width="2" height="2" fill="#e0707a"/><rect x="765.0" y="298.3" width="2" height="2" fill="#e0707a"/><rect x="776.0" y="298.3" width="2" height="2" fill="#e0707a"/><rect x="712.2" y="298.3" width="2" height="2" fill="#e0707a"/><rect x="715.5" y="304.4" width="2" height="2" fill="#e0707a"/><rect x="743.5" y="304.4" width="2" height="2" fill="#e0707a"/><rect x="699.5" y="310.4" width="2" height="2" fill="#e0707a"/><rect x="704.5" y="310.4" width="2" height="2" fill="#e0707a"/><rect x="763.9" y="310.4" width="2" height="2" fill="#e0707a"/><rect x="775.5" y="310.4" width="2" height="2" fill="#e0707a"/><rect x="782.0" y="310.4" width="2" height="2" fill="#e0707a"/><rect x="792.0" y="310.4" width="2" height="2" fill="#e0707a"/><rect x="712.2" y="315.9" width="2" height="2" fill="#e0707a"/><rect x="736.4" y="315.9" width="2" height="2" fill="#e0707a"/><rect x="778.8" y="315.9" width="2" height="2" fill="#e0707a"/><rect x="785.4" y="315.9" width="2" height="2" fill="#e0707a"/><rect x="720.5" y="320.9" width="2" height="2" fill="#e0707a"/><rect x="700.0" y="320.9" width="2" height="2" fill="#e0707a"/>
<rect x="64.4" y="348.9" width="2" height="2" fill="#4a88c0"/><rect x="68.7" y="348.9" width="2" height="2" fill="#4a88c0"/><rect x="85.6" y="332.0" width="2" height="2" fill="#4a88c0"/><rect x="104.3" y="326.9" width="2" height="2" fill="#4a88c0"/><rect x="104.3" y="332.0" width="2" height="2" fill="#4a88c0"/><rect x="123.7" y="326.9" width="2" height="2" fill="#4a88c0"/><rect x="143.2" y="343.0" width="2" height="2" fill="#4a88c0"/><rect x="150.0" y="343.0" width="2" height="2" fill="#4a88c0"/><rect x="178.0" y="321.0" width="2" height="2" fill="#4a88c0"/><rect x="103.4" y="348.9" width="2" height="2" fill="#4a88c0"/><rect x="195.9" y="326.9" width="2" height="2" fill="#4a88c0"/><rect x="200.1" y="326.9" width="2" height="2" fill="#4a88c0"/><rect x="214.5" y="326.9" width="2" height="2" fill="#4a88c0"/><rect x="207.7" y="332.8" width="2" height="2" fill="#4a88c0"/><rect x="245.9" y="321.0" width="2" height="2" fill="#4a88c0"/><rect x="264.5" y="321.0" width="2" height="2" fill="#4a88c0"/><rect x="271.3" y="326.9" width="2" height="2" fill="#4a88c0"/><rect x="295.0" y="321.0" width="2" height="2" fill="#4a88c0"/><rect x="314.5" y="326.9" width="2" height="2" fill="#4a88c0"/><rect x="319.6" y="332.8" width="2" height="2" fill="#4a88c0"/><rect x="319.6" y="338.0" width="2" height="2" fill="#4a88c0"/><rect x="207.7" y="348.9" width="2" height="2" fill="#4a88c0"/><rect x="233.2" y="338.0" width="2" height="2" fill="#4a88c0"/><rect x="242.5" y="338.0" width="2" height="2" fill="#4a88c0"/><rect x="246.7" y="315.0" width="2" height="2" fill="#4a88c0"/><rect x="277.2" y="310.0" width="2" height="2" fill="#4a88c0"/><rect x="338.3" y="321.0" width="2" height="2" fill="#4a88c0"/><rect x="360.4" y="321.0" width="2" height="2" fill="#4a88c0"/><rect x="362.0" y="321.0" width="2" height="2" fill="#4a88c0"/><rect x="340.9" y="326.9" width="2" height="2" fill="#4a88c0"/><rect x="398.5" y="321.0" width="2" height="2" fill="#4a88c0"/><rect x="405.3" y="321.0" width="2" height="2" fill="#4a88c0"/><rect x="416.3" y="321.0" width="2" height="2" fill="#4a88c0"/><rect x="339.2" y="338.0" width="2" height="2" fill="#4a88c0"/><rect x="361.2" y="338.0" width="2" height="2" fill="#4a88c0"/><rect x="384.9" y="332.8" width="2" height="2" fill="#4a88c0"/><rect x="406.1" y="332.8" width="2" height="2" fill="#4a88c0"/><rect x="412.0" y="338.0" width="2" height="2" fill="#4a88c0"/><rect x="415.4" y="338.0" width="2" height="2" fill="#4a88c0"/><rect x="432.4" y="332.8" width="2" height="2" fill="#4a88c0"/><rect x="445.1" y="326.9" width="2" height="2" fill="#4a88c0"/><rect x="453.6" y="326.9" width="2" height="2" fill="#4a88c0"/><rect x="457.8" y="326.9" width="2" height="2" fill="#4a88c0"/><rect x="471.4" y="332.8" width="2" height="2" fill="#4a88c0"/><rect x="396.8" y="343.0" width="2" height="2" fill="#4a88c0"/><rect x="418.0" y="343.0" width="2" height="2" fill="#4a88c0"/><rect x="477.4" y="321.0" width="2" height="2" fill="#4a88c0"/><rect x="489.3" y="321.0" width="2" height="2" fill="#4a88c0"/><rect x="492.6" y="321.0" width="2" height="2" fill="#4a88c0"/><rect x="506.2" y="321.0" width="2" height="2" fill="#4a88c0"/><rect x="524.8" y="326.9" width="2" height="2" fill="#4a88c0"/><rect x="527.4" y="326.9" width="2" height="2" fill="#4a88c0"/><rect x="539.3" y="326.9" width="2" height="2" fill="#4a88c0"/><rect x="552.0" y="326.9" width="2" height="2" fill="#4a88c0"/><rect x="571.5" y="326.9" width="2" height="2" fill="#4a88c0"/><rect x="590.1" y="332.8" width="2" height="2" fill="#4a88c0"/><rect x="607.9" y="326.9" width="2" height="2" fill="#4a88c0"/><rect x="623.2" y="326.9" width="2" height="2" fill="#4a88c0"/><rect x="492.6" y="338.0" width="2" height="2" fill="#4a88c0"/><rect x="501.1" y="338.0" width="2" height="2" fill="#4a88c0"/><rect x="612.1" y="332.8" width="2" height="2" fill="#4a88c0"/><rect x="575.7" y="338.0" width="2" height="2" fill="#4a88c0"/><rect x="485.9" y="343.0" width="2" height="2" fill="#4a88c0"/><rect x="541.8" y="343.0" width="2" height="2" fill="#4a88c0"/><rect x="623.2" y="326.9" width="2" height="2" fill="#4a88c0"/><rect x="632.6" y="326.9" width="2" height="2" fill="#4a88c0"/><rect x="652.9" y="326.9" width="2" height="2" fill="#4a88c0"/><rect x="669.0" y="326.9" width="2" height="2" fill="#4a88c0"/><rect x="681.7" y="326.9" width="2" height="2" fill="#4a88c0"/><rect x="698.7" y="326.9" width="2" height="2" fill="#4a88c0"/><rect x="711.4" y="321.0" width="2" height="2" fill="#4a88c0"/><rect x="729.2" y="315.9" width="2" height="2" fill="#4a88c0"/><rect x="736.0" y="326.9" width="2" height="2" fill="#4a88c0"/><rect x="744.4" y="321.0" width="2" height="2" fill="#4a88c0"/><rect x="763.1" y="321.0" width="2" height="2" fill="#4a88c0"/><rect x="649.5" y="338.0" width="2" height="2" fill="#4a88c0"/><rect x="652.9" y="338.0" width="2" height="2" fill="#4a88c0"/><rect x="682.6" y="332.8" width="2" height="2" fill="#4a88c0"/><rect x="729.2" y="343.0" width="2" height="2" fill="#4a88c0"/><rect x="736.0" y="343.0" width="2" height="2" fill="#4a88c0"/><rect x="744.4" y="343.0" width="2" height="2" fill="#4a88c0"/><rect x="759.7" y="343.0" width="2" height="2" fill="#4a88c0"/><rect x="619.8" y="348.9" width="2" height="2" fill="#4a88c0"/><rect x="669.8" y="343.0" width="2" height="2" fill="#4a88c0"/><rect x="688.5" y="343.0" width="2" height="2" fill="#4a88c0"/><rect x="715.6" y="343.0" width="2" height="2" fill="#4a88c0"/><rect x="759.2" y="326.3" width="2" height="2" fill="#4a88c0"/><rect x="764.0" y="326.3" width="2" height="2" fill="#4a88c0"/><rect x="775.8" y="326.3" width="2" height="2" fill="#4a88c0"/><rect x="779.0" y="326.3" width="2" height="2" fill="#4a88c0"/><rect x="787.6" y="326.3" width="2" height="2" fill="#4a88c0"/><rect x="791.5" y="326.3" width="2" height="2" fill="#4a88c0"/><rect x="752.1" y="337.3" width="2" height="2" fill="#4a88c0"/><rect x="764.0" y="337.3" width="2" height="2" fill="#4a88c0"/><rect x="780.5" y="337.3" width="2" height="2" fill="#4a88c0"/><rect x="786.0" y="337.3" width="2" height="2" fill="#4a88c0"/><rect x="790.0" y="337.3" width="2" height="2" fill="#4a88c0"/><rect x="760.0" y="342.9" width="2" height="2" fill="#4a88c0"/><rect x="775.8" y="342.9" width="2" height="2" fill="#4a88c0"/><rect x="785.2" y="342.9" width="2" height="2" fill="#4a88c0"/><rect x="763.2" y="320.8" width="2" height="2" fill="#4a88c0"/><rect x="785.2" y="320.8" width="2" height="2" fill="#4a88c0"/>
<rect x="64.4" y="315.9" width="2" height="2" fill="#98cc70"/><rect x="69.5" y="326.9" width="2" height="2" fill="#98cc70"/><rect x="123.7" y="321.0" width="2" height="2" fill="#98cc70"/><rect x="102.6" y="354.8" width="2" height="2" fill="#98cc70"/><rect x="113.6" y="354.8" width="2" height="2" fill="#98cc70"/><rect x="131.4" y="348.9" width="2" height="2" fill="#98cc70"/><rect x="135.6" y="348.9" width="2" height="2" fill="#98cc70"/><rect x="131.4" y="354.8" width="2" height="2" fill="#98cc70"/><rect x="150.0" y="354.8" width="2" height="2" fill="#98cc70"/><rect x="178.8" y="326.9" width="2" height="2" fill="#98cc70"/><rect x="164.4" y="360.0" width="2" height="2" fill="#98cc70"/><rect x="67.0" y="354.8" width="2" height="2" fill="#98cc70"/><rect x="195.0" y="332.8" width="2" height="2" fill="#98cc70"/><rect x="233.2" y="332.8" width="2" height="2" fill="#98cc70"/><rect x="243.3" y="332.8" width="2" height="2" fill="#98cc70"/><rect x="260.3" y="332.8" width="2" height="2" fill="#98cc70"/><rect x="306.0" y="332.8" width="2" height="2" fill="#98cc70"/><rect x="223.8" y="348.9" width="2" height="2" fill="#98cc70"/><rect x="233.2" y="348.9" width="2" height="2" fill="#98cc70"/><rect x="290.8" y="348.9" width="2" height="2" fill="#98cc70"/><rect x="295.0" y="348.9" width="2" height="2" fill="#98cc70"/><rect x="295.0" y="338.0" width="2" height="2" fill="#98cc70"/><rect x="215.4" y="354.8" width="2" height="2" fill="#98cc70"/><rect x="245.9" y="365.0" width="2" height="2" fill="#98cc70"/><rect x="339.2" y="348.9" width="2" height="2" fill="#98cc70"/><rect x="360.4" y="348.9" width="2" height="2" fill="#98cc70"/><rect x="384.9" y="348.9" width="2" height="2" fill="#98cc70"/><rect x="353.6" y="338.0" width="2" height="2" fill="#98cc70"/><rect x="388.3" y="348.9" width="2" height="2" fill="#98cc70"/><rect x="407.0" y="348.9" width="2" height="2" fill="#98cc70"/><rect x="427.3" y="348.9" width="2" height="2" fill="#98cc70"/><rect x="432.4" y="348.9" width="2" height="2" fill="#98cc70"/><rect x="445.1" y="348.9" width="2" height="2" fill="#98cc70"/><rect x="453.6" y="348.9" width="2" height="2" fill="#98cc70"/><rect x="478.2" y="332.8" width="2" height="2" fill="#98cc70"/><rect x="384.9" y="365.0" width="2" height="2" fill="#98cc70"/><rect x="388.3" y="365.0" width="2" height="2" fill="#98cc70"/><rect x="457.8" y="365.0" width="2" height="2" fill="#98cc70"/><rect x="477.4" y="348.9" width="2" height="2" fill="#98cc70"/><rect x="481.6" y="348.9" width="2" height="2" fill="#98cc70"/><rect x="488.4" y="348.9" width="2" height="2" fill="#98cc70"/><rect x="491.0" y="348.9" width="2" height="2" fill="#98cc70"/><rect x="512.1" y="348.9" width="2" height="2" fill="#98cc70"/><rect x="532.5" y="321.0" width="2" height="2" fill="#98cc70"/><rect x="522.3" y="343.0" width="2" height="2" fill="#98cc70"/><rect x="551.1" y="348.9" width="2" height="2" fill="#98cc70"/><rect x="575.7" y="348.9" width="2" height="2" fill="#98cc70"/><rect x="590.1" y="348.9" width="2" height="2" fill="#98cc70"/><rect x="602.8" y="348.9" width="2" height="2" fill="#98cc70"/><rect x="607.9" y="348.9" width="2" height="2" fill="#98cc70"/><rect x="618.9" y="348.9" width="2" height="2" fill="#98cc70"/><rect x="477.4" y="332.8" width="2" height="2" fill="#98cc70"/><rect x="681.7" y="326.9" width="2" height="2" fill="#98cc70"/><rect x="704.6" y="326.9" width="2" height="2" fill="#98cc70"/><rect x="712.2" y="326.9" width="2" height="2" fill="#98cc70"/><rect x="699.5" y="332.8" width="2" height="2" fill="#98cc70"/><rect x="763.9" y="326.9" width="2" height="2" fill="#98cc70"/><rect x="759.7" y="348.9" width="2" height="2" fill="#98cc70"/><rect x="763.9" y="348.9" width="2" height="2" fill="#98cc70"/><rect x="712.2" y="348.9" width="2" height="2" fill="#98cc70"/><rect x="715.6" y="348.9" width="2" height="2" fill="#98cc70"/><rect x="653.7" y="348.9" width="2" height="2" fill="#98cc70"/><rect x="666.5" y="348.9" width="2" height="2" fill="#98cc70"/><rect x="678.3" y="348.9" width="2" height="2" fill="#98cc70"/><rect x="760.0" y="349.2" width="2" height="2" fill="#98cc70"/><rect x="764.0" y="349.2" width="2" height="2" fill="#98cc70"/><rect x="755.3" y="326.3" width="2" height="2" fill="#98cc70"/><rect x="779.7" y="328.7" width="2" height="2" fill="#98cc70"/><rect x="775.0" y="337.3" width="2" height="2" fill="#98cc70"/>
<rect x="144.0" y="354.8" width="2" height="2" fill="#f0d860"/><rect x="150.0" y="360.0" width="2" height="2" fill="#f0d860"/><rect x="159.3" y="348.9" width="2" height="2" fill="#f0d860"/><rect x="174.6" y="365.9" width="2" height="2" fill="#f0d860"/><rect x="181.4" y="348.9" width="2" height="2" fill="#f0d860"/><rect x="61.0" y="344.7" width="2" height="2" fill="#f0d860"/><rect x="195.9" y="348.9" width="2" height="2" fill="#f0d860"/><rect x="199.3" y="348.9" width="2" height="2" fill="#f0d860"/><rect x="206.0" y="360.0" width="2" height="2" fill="#f0d860"/><rect x="232.3" y="354.8" width="2" height="2" fill="#f0d860"/><rect x="245.9" y="354.8" width="2" height="2" fill="#f0d860"/><rect x="319.6" y="354.8" width="2" height="2" fill="#f0d860"/><rect x="339.2" y="360.0" width="2" height="2" fill="#f0d860"/><rect x="384.9" y="354.8" width="2" height="2" fill="#f0d860"/><rect x="417.1" y="348.9" width="2" height="2" fill="#f0d860"/><rect x="405.3" y="354.8" width="2" height="2" fill="#f0d860"/><rect x="417.1" y="354.8" width="2" height="2" fill="#f0d860"/><rect x="427.3" y="354.8" width="2" height="2" fill="#f0d860"/><rect x="459.5" y="354.8" width="2" height="2" fill="#f0d860"/><rect x="487.6" y="354.8" width="2" height="2" fill="#f0d860"/><rect x="507.0" y="354.8" width="2" height="2" fill="#f0d860"/><rect x="525.7" y="354.8" width="2" height="2" fill="#f0d860"/><rect x="528.2" y="354.8" width="2" height="2" fill="#f0d860"/><rect x="531.6" y="354.8" width="2" height="2" fill="#f0d860"/><rect x="541.8" y="354.8" width="2" height="2" fill="#f0d860"/><rect x="555.4" y="354.8" width="2" height="2" fill="#f0d860"/><rect x="572.3" y="354.8" width="2" height="2" fill="#f0d860"/><rect x="590.1" y="354.8" width="2" height="2" fill="#f0d860"/><rect x="602.8" y="354.8" width="2" height="2" fill="#f0d860"/><rect x="620.6" y="354.8" width="2" height="2" fill="#f0d860"/>
<rect x="622.4" y="354.8" width="2" height="2" fill="#a898d8"/><rect x="632.6" y="354.8" width="2" height="2" fill="#a898d8"/><rect x="636.8" y="354.8" width="2" height="2" fill="#a898d8"/><rect x="736.0" y="354.8" width="2" height="2" fill="#a898d8"/><rect x="742.7" y="354.8" width="2" height="2" fill="#a898d8"/><rect x="758.0" y="354.8" width="2" height="2" fill="#a898d8"/><rect x="763.1" y="354.8" width="2" height="2" fill="#a898d8"/><rect x="775.0" y="349.2" width="2" height="2" fill="#a898d8"/><rect x="785.2" y="349.2" width="2" height="2" fill="#a898d8"/><rect x="758.4" y="354.7" width="2" height="2" fill="#a898d8"/><rect x="760.8" y="354.7" width="2" height="2" fill="#a898d8"/><rect x="764.0" y="354.7" width="2" height="2" fill="#a898d8"/><rect x="778.9" y="354.7" width="2" height="2" fill="#a898d8"/><rect x="789.2" y="354.7" width="2" height="2" fill="#a898d8"/><rect x="790.7" y="354.7" width="2" height="2" fill="#a898d8"/>
</g>
<g clip-path="url(#pc)">
<polyline points="191.8,366.0 197.7,366.0 200.3,369.4 207.0,368.6 213.8,368.6 224.0,365.2 229.1,366.9 243.5,370.3 261.3,370.3 270.6,367.7 285.0,370.3 298.6,366.0 307.0,367.7 320.6,368.6 335.0,368.6 340.2,367.7 360.5,366.9 362.2,369.4 385.9,368.6 414.7,369.4 431.7,368.6 448.6,367.7 465.6,370.3 475.0,370.5 490.0,370.0 510.0,371.0 530.0,370.0 555.0,370.0 575.0,371.0 595.0,370.0 615.0,370.0 635.0,369.0 655.0,368.5 700.0,367.5 750.0,367.0 797.0,367.5" fill="none" stroke="#36a24a" stroke-width="2.4" stroke-linejoin="round" stroke-linecap="round"/>
<polyline points="478.0,369.0 485.0,370.0 493.0,368.0 505.0,366.0 516.0,364.0 525.0,366.0 550.0,368.0 555.0,369.0 575.0,366.5 595.0,368.0 610.0,366.5 625.0,370.0 640.0,369.5 655.0,370.0 670.0,369.5 690.0,370.5 710.0,370.0 730.0,370.5 750.0,370.0 762.0,370.5 797.0,371.0" fill="none" stroke="#44b8d8" stroke-width="2.6" stroke-linejoin="round" stroke-linecap="round"/>
<polyline points="478.0,360.0 478.5,367.0 485.0,367.0 500.0,370.0 510.0,369.0 520.0,366.0 535.0,367.0 545.0,368.0 555.0,366.0 570.0,364.0 585.0,365.0 600.0,364.0 615.0,366.0 630.0,365.0 645.0,364.0 670.0,363.5 690.0,364.0 710.0,363.0 730.0,365.0 740.0,366.5 750.0,363.0 762.0,361.8 774.0,366.0 797.0,366.6" fill="none" stroke="#857f78" stroke-width="2.4" stroke-linejoin="round" stroke-linecap="round"/>
<polyline points="48.5,342.0 62.0,345.7 72.2,340.6 81.5,343.1 89.2,344.8 95.9,344.3 103.6,343.1 114.6,345.7 124.7,338.1 132.4,338.9 139.2,346.5 148.5,349.1 162.0,340.6 167.1,338.9 175.6,345.7 184.1,338.9 191.8,335.5 197.7,337.2 210.4,341.4 224.0,345.7 232.5,343.1 242.6,340.6 249.4,338.1 261.3,337.2 269.7,339.7 279.9,341.4 291.8,345.7 302.0,343.1 315.5,340.6 322.3,344.0 346.9,344.8 363.9,345.7 385.9,344.3 388.5,348.2 401.2,348.2 408.0,345.7 418.1,344.0 428.3,344.0 433.4,346.5 445.3,344.0 458.8,344.8 470.7,341.4 477.5,338.1 478.4,339.7 485.2,344.0 493.6,344.8 500.4,343.1 507.2,339.7 513.1,347.4 524.2,349.1 532.6,350.4 542.8,349.1 556.4,347.0 569.9,345.3 590.3,345.7 608.9,344.0 614.8,345.7 623.4,348.7 637.0,344.3 650.5,345.7 664.1,347.4 679.3,348.2 691.2,348.2 698.8,349.9 701.4,342.3 706.4,338.9 716.6,336.4 729.3,341.4 738.6,334.7 747.1,333.8 764.1,333.8 781.5,329.7 787.8,330.5 797.2,331.3" fill="none" stroke="#7cbf48" stroke-width="2.4" stroke-linejoin="round" stroke-linecap="round"/>
<polyline points="62.0,350.8 64.5,333.5 66.0,348.0 69.0,338.0 70.5,344.4 73.9,343.0 73.9,343.0 84.0,350.2 87.0,345.3 97.6,341.4 101.5,338.6 103.4,343.4 113.0,345.3 124.7,352.0 134.4,353.0 140.8,348.2 151.9,353.3 163.7,355.8 173.9,359.2 180.7,356.7 190.0,355.0 195.2,355.8 200.3,359.2 210.4,355.8 227.4,363.5 231.6,360.1 246.0,359.2 259.6,359.2 264.7,355.8 273.1,359.2 291.8,364.3 301.9,357.5 310.4,359.2 320.6,359.2 335.0,365.2 340.2,362.6 360.5,360.9 363.0,364.3 387.6,359.6 397.8,362.6 418.1,359.2 431.7,356.7 445.3,356.7 458.8,360.1 470.0,362.0 475.0,363.5 480.0,361.5 488.0,359.0 495.0,361.0 502.0,363.0 512.0,359.0 520.0,361.5 528.0,363.5 535.0,360.0 545.0,359.0 552.0,357.0 555.0,359.0 563.0,362.5 568.0,365.0 580.0,366.0 590.0,363.0 605.0,360.0 610.0,361.0 620.0,365.0 630.0,365.0 640.0,363.0 650.0,361.0 665.0,365.0 680.0,361.5 700.0,363.0 710.0,363.5 730.0,365.0 737.0,364.0 750.0,361.0 759.6,361.8 766.8,365.4 792.0,367.2 797.2,366.7" fill="none" stroke="#f4c81e" stroke-width="2.4" stroke-linejoin="round" stroke-linecap="round"/>
<polyline points="568.0,360.5 585.0,361.0 595.0,365.0 609.0,362.0 620.0,366.0 625.0,363.0 640.0,360.0 650.0,356.0 660.0,359.0 670.0,355.0 680.0,356.0 690.0,358.0 700.0,356.0 705.0,358.0 712.0,355.5 720.0,357.5 728.0,362.0 735.0,365.0 738.0,362.5 750.0,360.0 754.8,360.0 762.0,362.4 774.0,364.2 780.0,360.6 797.0,360.5" fill="none" stroke="#8a78c8" stroke-width="2.8" stroke-linejoin="round" stroke-linecap="round"/>
<polyline points="61.2,360.9 68.0,354.2 76.4,347.4 82.4,344.0 85.8,338.9 90.8,336.4 101.9,333.5 104.4,340.6 114.6,340.6 124.7,336.4 132.4,338.1 137.5,342.3 139.2,335.2 144.2,337.2 151.0,336.4 159.5,327.9 165.4,337.2 173.9,338.9 175.6,349.9 178.1,344.0 185.0,340.6 196.9,344.0 198.6,338.1 207.0,337.2 223.1,337.2 225.7,332.1 232.5,327.0 234.2,328.7 242.6,324.5 244.3,327.0 246.9,324.5 261.3,317.7 269.7,321.9 271.4,323.6 278.2,321.9 286.7,327.0 290.9,327.0 298.6,331.3 303.6,331.3 307.0,323.6 318.9,325.3 335.0,338.9 336.8,338.9 339.3,330.4 341.9,332.1 346.9,330.4 360.5,327.9 363.0,329.6 385.1,344.0 388.5,335.5 397.8,335.5 401.2,331.3 404.6,329.6 416.4,327.0 423.2,333.0 428.3,327.0 435.1,329.6 445.3,330.4 448.6,333.8 457.1,332.1 462.2,329.6 465.6,327.9 481.8,328.7 487.7,331.3 492.8,327.0 496.2,329.6 504.7,328.7 510.6,333.0 524.2,338.1 526.7,334.7 529.2,337.2 530.9,334.7 540.3,332.1 549.6,340.6 553.0,339.7 557.2,343.1 568.2,342.3 571.6,333.0 580.1,334.7 593.6,339.7 605.5,339.7 608.1,341.4 610.6,337.2 620.8,338.9 628.5,340.6 638.6,335.5 650.5,349.1 653.9,343.1 666.6,336.4 669.2,340.6 681.0,343.1 683.6,339.7 698.8,339.7 706.4,335.5 714.9,333.0 721.7,331.3 730.2,333.8 747.1,333.8 755.6,333.0 759.4,334.4 765.7,335.2 776.8,334.4 778.3,332.8 787.8,332.8 795.7,332.0" fill="none" stroke="#1b6aa8" stroke-width="2.6" stroke-linejoin="round" stroke-linecap="round"/>
<polyline points="60.3,295.0 71.0,287.0 79.7,292.0 86.5,298.2 102.0,317.5 103.9,299.0 125.2,291.5 132.0,297.0 134.9,289.0 137.8,291.5 144.6,288.2 152.3,295.2 160.1,301.0 165.9,297.1 173.6,285.0 175.6,272.6 179.5,277.9 193.0,283.3 198.8,275.0 201.2,280.3 208.5,278.4 216.3,283.3 224.0,278.4 230.0,283.0 233.7,284.2 242.4,291.0 246.3,286.1 260.8,294.9 265.7,305.5 269.5,300.7 272.5,300.7 278.3,298.7 286.0,291.0 291.8,277.4 303.4,281.3 307.3,291.0 315.1,289.1 319.9,291.0 336.4,272.6 339.3,293.9 342.2,300.7 360.6,317.1 362.5,307.5 383.8,276.5 386.7,289.1 389.6,290.0 399.3,286.1 402.2,289.1 406.1,288.1 415.8,284.2 423.6,275.5 426.5,279.4 429.4,278.4 435.2,280.3 445.8,281.3 446.8,275.5 451.6,286.1 454.5,281.3 457.5,283.2 462.3,280.3 465.2,282.9 473.0,276.5 478.8,284.2 487.5,281.3 491.3,290.0 494.3,292.0 501.0,290.0 509.7,289.1 513.6,295.8 526.2,292.0 530.1,291.0 531.1,294.9 542.7,299.7 549.5,294.9 557.2,284.2 568.8,287.1 572.7,299.7 574.6,288.1 584.3,278.4 595.0,289.9 603.7,302.5 611.5,288.9 620.2,273.4 625.0,270.5 631.8,271.5 639.5,283.1 651.2,289.9 667.6,274.4 671.5,287.0 680.2,289.9 683.1,294.7 698.6,276.3 698.6,276.3 700.6,290.8 705.0,292.2 706.6,297.1 714.3,304.3 720.9,315.3 729.7,306.5 735.2,304.3 737.4,309.8 744.0,310.3 747.3,312.5 753.9,309.8 759.4,311.4 762.7,304.8 764.9,307.6 777.0,308.1 779.2,305.4 781.4,301.5 788.0,304.8 791.3,299.9 794.6,301.5 800.1,298.2" fill="none" stroke="#cc1a2a" stroke-width="2.5" stroke-linejoin="round" stroke-linecap="round"/>
<polyline points="48.1,259.7 61.3,269.4 65.2,283.0 71.0,283.0 85.5,281.6 86.5,276.2 102.0,266.5 103.9,277.1 104.9,270.0 114.6,269.4 125.2,247.1 132.0,252.9 133.9,264.5 136.8,261.6 144.6,274.2 150.4,271.3 160.1,252.9 164.0,253.9 173.6,240.3 175.6,243.2 183.3,241.3 196.9,242.9 198.8,244.2 200.8,241.3 208.5,239.4 216.3,232.6 224.0,232.0 225.0,221.0 227.0,220.5 233.7,229.2 242.4,231.1 244.4,229.2 246.3,231.1 248.2,228.6 260.8,229.8 264.7,236.0 271.5,226.3 278.3,224.4 286.0,228.2 291.8,237.0 302.5,236.0 315.1,231.1 319.9,233.1 335.4,238.9 340.2,244.7 342.2,241.8 353.8,244.7 362.5,254.4 383.8,276.7 385.8,261.2 389.6,259.2 399.3,263.1 402.2,260.2 405.1,260.2 406.1,255.4 408.0,257.3 410.0,257.3 417.7,258.3 425.5,267.4 429.4,265.0 445.8,251.5 446.8,254.4 450.7,244.7 453.6,247.6 455.5,256.3 457.5,254.4 463.3,257.3 472.0,259.2 477.8,255.0 479.7,259.2 486.5,260.2 491.3,255.0 502.0,251.9 508.8,263.1 524.3,268.9 526.2,271.8 528.1,265.0 531.1,267.0 538.8,262.1 542.7,255.4 551.4,250.5 557.2,257.3 567.9,259.2 572.7,271.8 575.6,271.8 585.3,274.3 591.1,263.1 593.0,267.0 600.0,263.1 603.7,262.1 606.6,273.8 613.4,273.8 619.2,278.6 624.1,269.9 633.7,268.9 641.5,267.0 650.2,265.0 653.1,262.1 659.9,264.1 668.6,268.0 672.5,263.1 682.2,263.1 683.1,262.1 686.0,265.0 697.7,270.9 703.5,273.8 706.4,268.9 713.1,266.0 717.0,268.0 730.6,283.4 736.4,283.4 742.0,276.0 745.0,282.0 754.0,282.5 761.7,277.0 766.0,281.0 776.0,285.0 777.1,281.5 783.6,282.3 790.2,281.5 793.4,285.6 795.6,280.2 800.0,276.0" fill="none" stroke="#111111" stroke-width="2.7" stroke-linejoin="round" stroke-linecap="round"/>
<polyline points="48.0,123.3 61.3,92.6 65.2,90.3 69.1,77.1 71.0,84.9 84.6,80.0 85.9,58.7 86.5,78.0 103.0,89.7 104.0,72.3 105.9,90.7 114.6,90.7 124.3,120.7 133.0,93.6 136.9,90.5 144.7,82.0 150.5,84.9 160.2,108.0 165.0,107.0 168.9,126.1 172.8,134.9 175.7,129.0 182.5,136.4 191.2,135.8 197.0,136.8 201.8,139.7 207.6,141.6 211.5,137.8 216.3,136.8 223.1,132.9 225.1,150.4 233.8,147.5 242.5,146.5 247.3,156.2 260.9,163.0 265.7,141.6 269.6,147.5 278.3,145.0 286.1,143.6 290.0,146.1 305.4,146.9 316.1,144.5 320.9,133.0 339.4,122.6 340.3,111.0 354.9,107.1 360.7,98.4 364.5,100.3 384.9,100.3 385.5,114.9 386.8,101.3 388.8,106.1 390.7,100.3 399.4,101.3 400.4,106.1 405.2,107.1 406.2,116.8 409.1,114.9 417.8,122.6 426.5,113.9 430.4,118.7 434.3,118.7 447.8,135.2 454.6,135.2 455.6,122.6 459.5,126.5 463.3,125.5 473.0,136.2 478.8,132.3 483.7,121.6 490.4,116.8 494.3,115.8 502.0,119.7 506.9,117.8 512.7,101.6 524.4,98.7 525.3,100.7 529.2,91.0 533.1,92.9 541.8,98.7 545.7,107.5 552.5,119.1 556.3,109.4 568.9,103.6 571.8,97.8 574.7,105.5 576.7,102.6 580.5,102.2 590.2,95.8 591.2,100.7 603.8,102.2 606.7,95.8 610.6,103.6 619.3,102.6 621.2,106.5 627.0,107.5 638.6,120.0 650.3,100.7 653.2,107.5 666.7,118.1 668.7,112.3 671.6,111.3 675.4,108.4 682.2,105.5 684.2,108.4 690.9,108.0 695.0,109.4 698.7,110.2 701.6,106.3 704.5,107.3 706.5,111.1 713.2,114.1 716.1,104.4 721.0,87.0 729.7,68.6 735.5,78.3 741.3,80.2 744.2,84.1 748.1,79.2 757.8,89.0 761.7,85.0 764.6,89.9 765.5,81.2 775.2,79.6 777.2,84.1 780.1,85.0 781.0,93.8 786.8,91.8 789.7,90.9 791.7,92.8 793.6,87.0 795.6,92.8 799.4,99.2" fill="none" stroke="#f26b1d" stroke-width="2.5" stroke-linejoin="round" stroke-linecap="round"/>
</g>
<circle cx="48" cy="123.3" r="3.9" fill="#f26b1d" stroke="#7a3a10" stroke-width="1"/>
<circle cx="48.1" cy="259.7" r="3.9" fill="#111" stroke="#000" stroke-width="1"/>
<circle cx="48.5" cy="342" r="3.9" fill="#7cbf48" stroke="#3a6a20" stroke-width="1"/>
<circle cx="799.4" cy="99.2" r="3.9" fill="#f26b1d" stroke="#7a3a10" stroke-width="1"/>
<circle cx="798.9" cy="264.9" r="3.9" fill="#111" stroke="#000" stroke-width="1"/>
<circle cx="798.9" cy="305.9" r="3.9" fill="#cc1a2a" stroke="#7a1010" stroke-width="1"/>
<circle cx="798.8" cy="331.3" r="3.9" fill="#7cbf48" stroke="#3a6a20" stroke-width="1"/>
<circle cx="799.1" cy="341.2" r="3.9" fill="#1b6aa8" stroke="#0c3a60" stroke-width="1"/>
<circle cx="798.8" cy="353.4" r="3.9" fill="#8a78c8" stroke="#40386a" stroke-width="1"/>
<circle cx="798.8" cy="361.2" r="3.9" fill="#7a7a7a" stroke="#404040" stroke-width="1"/>
<circle cx="798.8" cy="367.8" r="3.9" fill="#f2cc2a" stroke="#6a5a10" stroke-width="1"/>
<rect x="819.5" y="0" width="1.2" height="413" fill="#909090"/>
<text x="840" y="17.3" font-size="12.75" fill="#333" stroke="#333" stroke-width="0.3" style="font-family:'Liberation Serif',serif">30 day average - <tspan font-style="italic">2018-04-03</tspan></text>
<defs>
<linearGradient id="gF" x1="0" y1="0" x2="1" y2="1"><stop offset="0" stop-color="#f37020"/><stop offset="1" stop-color="#fb8a3c"/></linearGradient>
<linearGradient id="gR" x1="0" y1="0" x2="0" y2="1"><stop offset="0" stop-color="#d01a28"/><stop offset="1" stop-color="#e8404a"/></linearGradient>
<linearGradient id="gJ" x1="0" y1="0" x2="0" y2="1"><stop offset="0" stop-color="#141414"/><stop offset="1" stop-color="#3a3a3a"/></linearGradient>
<linearGradient id="gG" x1="0" y1="0" x2="0" y2="1"><stop offset="0" stop-color="#72b846"/><stop offset="1" stop-color="#8cd060"/></linearGradient>
<linearGradient id="gB" x1="0" y1="0" x2="0" y2="1"><stop offset="0" stop-color="#1666b8"/><stop offset="1" stop-color="#2490e0"/></linearGradient>
<linearGradient id="gP" x1="0" y1="0" x2="0" y2="1"><stop offset="0" stop-color="#7a68c0"/><stop offset="1" stop-color="#9a8ad8"/></linearGradient>
</defs>
<rect x="876.5" y="32.00" width="105.01" height="27" fill="url(#gF)"/>
<text x="865.6" y="49.6" font-size="9.8" fill="#383838" stroke="#383838" stroke-width="0.08" text-anchor="end" textLength="26.3" lengthAdjust="spacingAndGlyphs">Fidesz</text>
<text x="882.4" y="49.7" font-size="9.8" letter-spacing="0.3" fill="#5a2a08" stroke="#5a2a08" stroke-width="0.15">49,3</text>
<rect x="876.5" y="65.75" width="28.97" height="27" fill="url(#gR)"/>
<text x="865.6" y="83.3" font-size="9.8" fill="#383838" stroke="#383838" stroke-width="0.08" text-anchor="end" textLength="24.1" lengthAdjust="spacingAndGlyphs">MSZP</text>
<text x="882.4" y="83.5" font-size="9.8" letter-spacing="0.3" fill="#601010" stroke="#601010" stroke-width="0.15">13,6</text>
<rect x="876.5" y="99.50" width="37.49" height="27" fill="url(#gJ)"/>
<text x="865.6" y="117.1" font-size="9.8" fill="#383838" stroke="#383838" stroke-width="0.08" text-anchor="end" textLength="28" lengthAdjust="spacingAndGlyphs">Jobbik</text>
<text x="882.4" y="117.2" font-size="9.8" letter-spacing="0.3" fill="#f0f0f0" stroke="#f0f0f0" stroke-width="0.15">17,6</text>
<rect x="876.5" y="133.25" width="15.34" height="27" fill="url(#gG)"/>
<text x="865.6" y="150.8" font-size="9.8" fill="#383838" stroke="#383838" stroke-width="0.08" text-anchor="end" textLength="18.6" lengthAdjust="spacingAndGlyphs">LMP</text>
<text x="882.4" y="150.9" font-size="9.8" letter-spacing="0.3" fill="#383838" stroke="#383838" stroke-width="0.15">7,2</text>
<rect x="876.5" y="167.00" width="14.27" height="27" fill="url(#gB)"/>
<text x="865.6" y="184.6" font-size="9.8" fill="#383838" stroke="#383838" stroke-width="0.08" text-anchor="end" textLength="11.9" lengthAdjust="spacingAndGlyphs">DK</text>
<text x="882.4" y="184.7" font-size="9.8" letter-spacing="0.3" fill="#383838" stroke="#383838" stroke-width="0.15">6,7</text>
<rect x="876.5" y="200.75" width="1.49" height="27" fill="#f0d020"/>
<text x="865.6" y="218.3" font-size="9.8" fill="#383838" stroke="#383838" stroke-width="0.08" text-anchor="end" textLength="27.1" lengthAdjust="spacingAndGlyphs">Együtt</text>
<text x="882.4" y="218.4" font-size="9.8" letter-spacing="0.3" fill="#383838" stroke="#383838" stroke-width="0.15">0,7</text>
<text x="865.6" y="252.1" font-size="9.8" fill="#383838" stroke="#383838" stroke-width="0.08" text-anchor="end" textLength="37.6" lengthAdjust="spacingAndGlyphs">Dialogue</text>
<text x="882.4" y="252.2" font-size="9.8" letter-spacing="0.3" fill="#383838" stroke="#383838" stroke-width="0.15">0,0</text>
<text x="865.6" y="285.9" font-size="9.8" fill="#383838" stroke="#383838" stroke-width="0.08" text-anchor="end" textLength="19" lengthAdjust="spacingAndGlyphs">MLP</text>
<text x="882.4" y="285.9" font-size="9.8" letter-spacing="0.3" fill="#383838" stroke="#383838" stroke-width="0.15">0,0</text>
<rect x="876.5" y="302.00" width="2.13" height="27" fill="#333"/>
<text x="865.6" y="319.6" font-size="9.8" fill="#383838" stroke="#383838" stroke-width="0.08" text-anchor="end" textLength="25.8" lengthAdjust="spacingAndGlyphs">MKKP</text>
<text x="882.4" y="319.7" font-size="9.8" letter-spacing="0.3" fill="#383838" stroke="#383838" stroke-width="0.15">1,0</text>
<rect x="876.5" y="335.75" width="4.69" height="27" fill="url(#gP)"/>
<text x="865.6" y="353.4" font-size="9.8" fill="#383838" stroke="#383838" stroke-width="0.08" text-anchor="end" textLength="17.6" lengthAdjust="spacingAndGlyphs">MM</text>
<text x="882.4" y="353.4" font-size="9.8" letter-spacing="0.3" fill="#383838" stroke="#383838" stroke-width="0.15">2,2</text>
<rect x="876.5" y="369.50" width="3.41" height="27" fill="#d8d8d8" stroke="#a0a0a0" stroke-width="0.8"/>
<text x="865.6" y="387.1" font-size="9.8" fill="#383838" stroke="#383838" stroke-width="0.08" text-anchor="end" textLength="25.1" lengthAdjust="spacingAndGlyphs">Other</text>
<text x="882.4" y="387.2" font-size="9.8" letter-spacing="0.3" fill="#383838" stroke="#383838" stroke-width="0.15">1,6</text>
<rect x="875.6" y="28" width="1" height="372" fill="#404040"/>
<rect x="0.5" y="0.5" width="999" height="412" fill="none" stroke="#a0a0a0" stroke-width="1"/>
</svg></body></html>
